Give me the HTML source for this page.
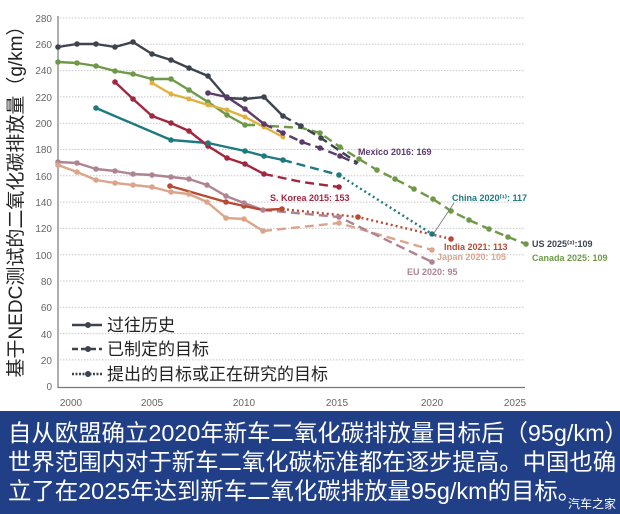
<!DOCTYPE html>
<html><head><meta charset="utf-8"><style>
html,body{margin:0;padding:0;background:#fff;width:620px;height:514px;overflow:hidden}
.box{position:absolute;left:0;top:411px;width:620px;height:103px;background:#213f86;color:#fff;font-family:"Liberation Sans","Noto Sans CJK SC",sans-serif;font-size:23.4px;line-height:29px;white-space:nowrap;padding:8px 0 0 8px;box-sizing:border-box;letter-spacing:0}
.wm{position:absolute;right:4px;bottom:4px;font-size:12px;line-height:12px;letter-spacing:0}
</style></head><body>
<svg width="620" height="514" style="position:absolute;left:0;top:0" font-family="Liberation Sans, Noto Sans CJK SC, sans-serif">
<g stroke="#c8c8c8" stroke-width="1" stroke-dasharray="1.5,1.5">
<line x1="60" x2="525" y1="18" y2="18"/><line x1="60" x2="525" y1="44.3" y2="44.3"/><line x1="60" x2="525" y1="70.6" y2="70.6"/><line x1="60" x2="525" y1="96.9" y2="96.9"/><line x1="60" x2="525" y1="123.2" y2="123.2"/><line x1="60" x2="525" y1="149.5" y2="149.5"/><line x1="60" x2="525" y1="175.8" y2="175.8"/><line x1="60" x2="525" y1="202.1" y2="202.1"/><line x1="60" x2="525" y1="228.4" y2="228.4"/><line x1="60" x2="525" y1="254.7" y2="254.7"/><line x1="60" x2="525" y1="281" y2="281"/><line x1="60" x2="525" y1="307.3" y2="307.3"/><line x1="60" x2="525" y1="333.6" y2="333.6"/><line x1="60" x2="525" y1="359.9" y2="359.9"/>
</g>
<line x1="58" y1="16" x2="58" y2="388" stroke="#777" stroke-width="1.2"/>
<line x1="58" y1="387.5" x2="525" y2="387.5" stroke="#777" stroke-width="1.2"/>
<g font-size="10" fill="#666" text-anchor="end">
<text x="52" y="22">280</text><text x="52" y="48">260</text><text x="52" y="74">240</text><text x="52" y="101">220</text><text x="52" y="127">200</text><text x="52" y="153">180</text><text x="52" y="180">160</text><text x="52" y="206">140</text><text x="52" y="232">120</text><text x="52" y="259">100</text><text x="52" y="285">80</text><text x="52" y="311">60</text><text x="52" y="338">40</text><text x="52" y="364">20</text><text x="52" y="390">0</text>
</g>
<g font-size="10" fill="#666" text-anchor="middle">
<text x="71" y="406">2000</text><text x="152" y="406">2005</text><text x="244" y="406">2010</text><text x="337" y="406">2015</text><text x="432" y="406">2020</text><text x="515" y="406">2025</text>
</g>
<text transform="translate(22,197) rotate(-90)" font-size="19" fill="#222" text-anchor="middle">基于NEDC测试的二氧化碳排放量（g/km）</text>

<g fill="none" stroke-width="2.4" stroke-linejoin="round">
<polyline stroke="#dca58a" points="58,165 77,172 96,180 115,183 133,185 152,187 171,192 189,194 207,202 226,218 244,219 263,231"/>
<polyline stroke="#dca58a" stroke-dasharray="9,5" points="263,231 339,223 432,250"/>
<polyline stroke="#b08393" points="58,162 77,163 96,169 115,171 133,174 152,175 171,177 189,179 207,185 226,196 244,203 263,210"/>
<polyline stroke="#b08393" stroke-dasharray="9,5" points="263,210 339,217 432,262"/>
<polyline stroke="#b84a34" points="170,186 226,202 244,206 263,210 282,209"/>
<polyline stroke="#b84a34" stroke-dasharray="2,3" points="282,209 358,217 451,239"/>
<polyline stroke="#1f7a80" points="96,108 171,140 208,143 245,151 264,156 283,160"/>
<polyline stroke="#1f7a80" stroke-dasharray="9,5" points="283,160 339,175"/>
<polyline stroke="#1f7a80" stroke-dasharray="2,3" points="339,175 432,234"/>
<polyline stroke="#a3263f" points="115,82 133,99 152,116 171,123 189,131 208,146 227,158 245,164 264,174"/>
<polyline stroke="#a3263f" stroke-dasharray="9,5" points="264,174 302,182 339,187"/>
<polyline stroke="#6e9a48" points="58,62 77,63 96,66 115,71 133,74 152,79 171,79 189,90 208,102 227,115 245,125 255,125"/>
<polyline stroke="#6e9a48" stroke-dasharray="9,5" points="270,126 302,128 320,133 340,147 359,159 377,170 395,179 414,189 433,199 451,211 469,220 489,229 508,237 526,244"/>
<polyline stroke="#e2b040" points="152,83 171,94 189,99 208,105 227,110 245,117 264,127 283,137"/>
<polyline stroke="#5b3a6b" points="208,93 227,97 245,109 264,124"/>
<polyline stroke="#5b3a6b" stroke-dasharray="9,5" points="264,124 283,133 302,142 320,148 340,156 357,164"/>
<polyline stroke="#3d4450" points="58,47 77,44 96,44 115,47 133,42 152,54 171,60 189,68 208,76 227,98 245,99 264,97 283,116"/>
<polyline stroke="#3d4450" stroke-dasharray="9,5" points="283,116 301,126 321,138 340,151 358,163"/>
</g>
<g stroke="none">
<g fill="#3d4450"><circle cx="58" cy="47" r="2.8"/><circle cx="77" cy="44" r="2.8"/><circle cx="96" cy="44" r="2.8"/><circle cx="115" cy="47" r="2.8"/><circle cx="133" cy="42" r="2.8"/><circle cx="152" cy="54" r="2.8"/><circle cx="171" cy="60" r="2.8"/><circle cx="189" cy="68" r="2.8"/><circle cx="208" cy="76" r="2.8"/><circle cx="227" cy="98" r="2.8"/><circle cx="245" cy="99" r="2.8"/><circle cx="264" cy="97" r="2.8"/><circle cx="283" cy="116" r="2.8"/><circle cx="301" cy="126" r="2.8"/><circle cx="321" cy="138" r="2.8"/></g>
<g fill="#6e9a48"><circle cx="58" cy="62" r="2.8"/><circle cx="77" cy="63" r="2.8"/><circle cx="96" cy="66" r="2.8"/><circle cx="115" cy="71" r="2.8"/><circle cx="133" cy="74" r="2.8"/><circle cx="152" cy="79" r="2.8"/><circle cx="171" cy="79" r="2.8"/><circle cx="189" cy="90" r="2.8"/><circle cx="208" cy="102" r="2.8"/><circle cx="227" cy="115" r="2.8"/><circle cx="245" cy="125" r="2.8"/><circle cx="320" cy="133" r="2.8"/><circle cx="340" cy="147" r="2.8"/><circle cx="359" cy="159" r="2.8"/><circle cx="377" cy="170" r="2.8"/><circle cx="395" cy="179" r="2.8"/><circle cx="414" cy="189" r="2.8"/><circle cx="433" cy="199" r="2.8"/><circle cx="451" cy="211" r="2.8"/><circle cx="469" cy="220" r="2.8"/><circle cx="489" cy="229" r="2.8"/><circle cx="508" cy="237" r="2.8"/><circle cx="526" cy="244" r="2.8"/></g>
<g fill="#e2b040"><circle cx="152" cy="83" r="2.5"/><circle cx="171" cy="94" r="2.5"/><circle cx="189" cy="99" r="2.5"/><circle cx="208" cy="105" r="2.5"/><circle cx="227" cy="110" r="2.5"/><circle cx="245" cy="117" r="2.5"/><circle cx="264" cy="127" r="2.5"/><circle cx="283" cy="137" r="2.5"/></g>
<g fill="#5b3a6b"><circle cx="208" cy="93" r="2.8"/><circle cx="227" cy="97" r="2.8"/><circle cx="245" cy="109" r="2.8"/><circle cx="264" cy="124" r="2.8"/><circle cx="283" cy="133" r="2.8"/><circle cx="302" cy="142" r="2.8"/><circle cx="320" cy="148" r="2.8"/><circle cx="340" cy="156" r="2.8"/></g>
<g fill="#a3263f"><circle cx="115" cy="82" r="2.8"/><circle cx="133" cy="99" r="2.8"/><circle cx="152" cy="116" r="2.8"/><circle cx="171" cy="123" r="2.8"/><circle cx="189" cy="131" r="2.8"/><circle cx="208" cy="146" r="2.8"/><circle cx="227" cy="158" r="2.8"/><circle cx="245" cy="164" r="2.8"/><circle cx="264" cy="174" r="2.8"/><circle cx="339" cy="187" r="2.8"/></g>
<g fill="#1f7a80"><circle cx="96" cy="108" r="2.8"/><circle cx="171" cy="140" r="2.8"/><circle cx="208" cy="143" r="2.8"/><circle cx="245" cy="151" r="2.8"/><circle cx="264" cy="156" r="2.8"/><circle cx="283" cy="160" r="2.8"/><circle cx="339" cy="175" r="2.8"/><circle cx="432" cy="234" r="2.8"/></g>
<g fill="#b84a34"><circle cx="170" cy="186" r="2.8"/><circle cx="226" cy="202" r="2.8"/><circle cx="244" cy="206" r="2.8"/><circle cx="282" cy="209" r="2.8"/><circle cx="358" cy="217" r="2.8"/><circle cx="451" cy="239" r="2.8"/></g>
<g fill="#b08393"><circle cx="58" cy="162" r="2.8"/><circle cx="77" cy="163" r="2.8"/><circle cx="96" cy="169" r="2.8"/><circle cx="115" cy="171" r="2.8"/><circle cx="133" cy="174" r="2.8"/><circle cx="152" cy="175" r="2.8"/><circle cx="171" cy="177" r="2.8"/><circle cx="189" cy="179" r="2.8"/><circle cx="207" cy="185" r="2.8"/><circle cx="226" cy="196" r="2.8"/><circle cx="244" cy="203" r="2.8"/><circle cx="263" cy="210" r="2.8"/><circle cx="339" cy="217" r="2.8"/><circle cx="432" cy="262" r="2.8"/></g>
<g fill="#dca58a"><circle cx="58" cy="165" r="2.8"/><circle cx="77" cy="172" r="2.8"/><circle cx="96" cy="180" r="2.8"/><circle cx="115" cy="183" r="2.8"/><circle cx="133" cy="185" r="2.8"/><circle cx="152" cy="187" r="2.8"/><circle cx="171" cy="192" r="2.8"/><circle cx="189" cy="194" r="2.8"/><circle cx="207" cy="202" r="2.8"/><circle cx="226" cy="218" r="2.8"/><circle cx="244" cy="219" r="2.8"/><circle cx="263" cy="231" r="2.8"/><circle cx="339" cy="223" r="2.8"/><circle cx="432" cy="250" r="2.8"/></g>
</g>
<line x1="434" y1="233" x2="454" y2="203" stroke="#777" stroke-width="0.8"/>
<g font-size="9" font-weight="bold">
<text x="358" y="155" fill="#5b3a6b">Mexico 2016: 169</text>
<text x="270" y="201" fill="#a3263f">S. Korea 2015: 153</text>
<text x="452" y="201" fill="#1f7a80">China 2020⁽¹⁾: 117</text>
<text x="444" y="250" fill="#b84a34">India 2021: 113</text>
<text x="437" y="260" fill="#dca58a">Japan 2020: 105</text>
<text x="407" y="275" fill="#b08393">EU 2020: 95</text>
<text x="532" y="247" fill="#3d4450">US 2025⁽²⁾:109</text>
<text x="532" y="261" fill="#6e9a48">Canada 2025: 109</text>
</g>
<g stroke="#3d4450" stroke-width="2.4" fill="#3d4450">
<line x1="72" y1="325" x2="102" y2="325"/><circle cx="88" cy="325" r="3" stroke="none"/>
<line x1="72" y1="349" x2="102" y2="349" stroke-dasharray="6,3"/><circle cx="88" cy="349" r="3" stroke="none"/>
<line x1="72" y1="374" x2="102" y2="374" stroke-dasharray="2,1.5"/><circle cx="88" cy="374" r="3" stroke="none"/>
</g>
<g font-size="17" fill="#222">
<text x="107" y="331">过往历史</text>
<text x="107" y="355">已制定的目标</text>
<text x="107" y="380">提出的目标或正在研究的目标</text>
</g>
</svg>
<div class="box">自从欧盟确立2020年新车二氧化碳排放量目标后（95g/km）<br>世界范围内对于新车二氧化碳标准都在逐步提高。中国也确<br>立了在2025年达到新车二氧化碳排放量95g/km的目标。<span class="wm">汽车之家</span></div>
</body></html>
